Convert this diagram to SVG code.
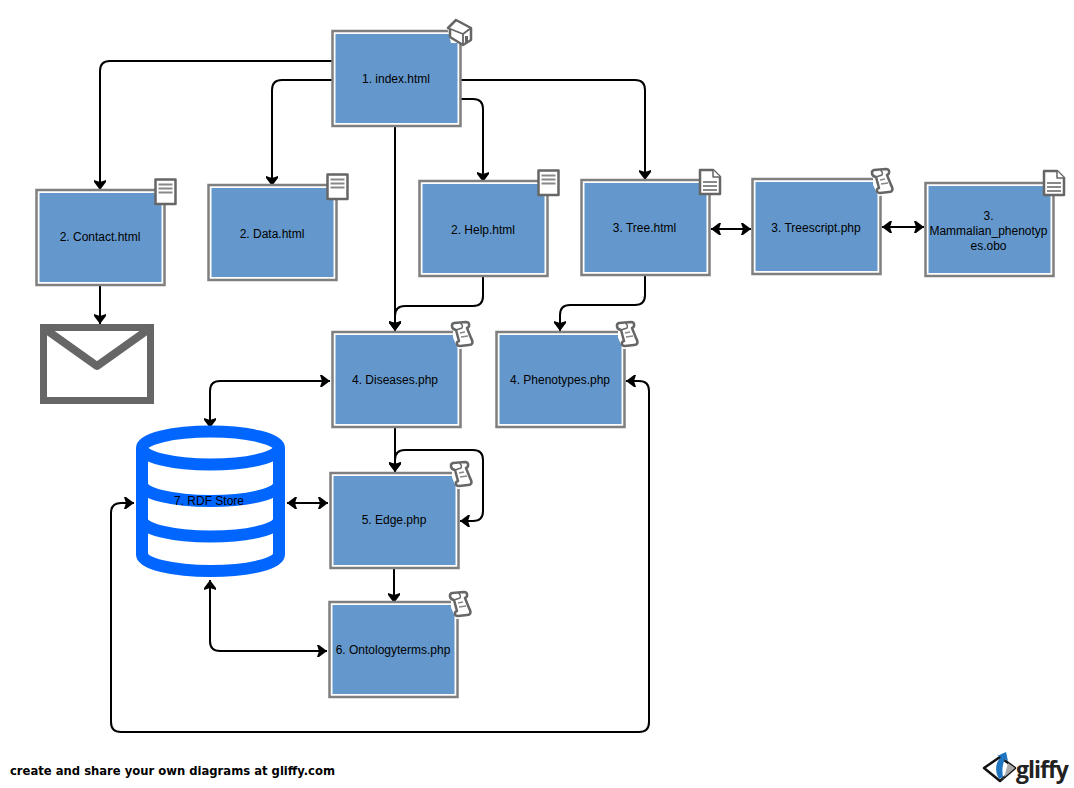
<svg xmlns="http://www.w3.org/2000/svg" xmlns:xlink="http://www.w3.org/1999/xlink" width="1074" height="788" viewBox="0 0 1074 788">
<style>
text{font-family:"Liberation Sans",Arial,sans-serif;font-size:12px;fill:#000;text-anchor:middle}
.o{fill:#fff;stroke:#7f7f7f;stroke-width:2.500}
.b{fill:#6498cc}
.c{fill:none;stroke:#000;stroke-width:2;stroke-linejoin:round}
.i{fill:#fff;stroke:#666;stroke-width:2.5;stroke-linejoin:round}
.l{fill:none;stroke:#888;stroke-width:1.6}
.db{fill:none;stroke:#0066ff;stroke-width:12}
</style>
<defs>
<marker id="e" markerUnits="userSpaceOnUse" markerWidth="16" markerHeight="16" refX="12" refY="8" orient="auto"><path d="M12 8L4 2L2 2L4 8L2 14L4 14Z" fill="#000"/></marker>
<marker id="s" markerUnits="userSpaceOnUse" markerWidth="16" markerHeight="16" refX="4" refY="8" orient="auto"><path d="M4 8L12 2L14 2L12 8L14 14L12 14Z" fill="#000"/></marker>
<g id="doc"><rect class="i" x="0.500" y="0.500" width="20" height="24.500"/><path class="l" d="M3.500 5.500H17.500M3.500 9.500H17.500M3.500 13.500H17.500" style="stroke-width:2"/></g>
<g id="file"><path class="i" d="M1 1H14L21 8V25H1Z"/><path class="i" d="M14 1V8H21" style="stroke-width:1.500"/><path class="l" d="M4 13H18M4 17H18M4 21H18" style="stroke-width:1.800"/></g>
<g id="scroll"><path class="i" style="stroke:#fff;stroke-width:6" d="M5 2H15L20 20L9 25L5 16Z"/><path class="i" d="M3 2L15 1C19 1 19 6 16 7L20 17C23 22 21 24 18 24L9 25C5 25 5 21 8 20L5 9C0 8 0 3 3 2Z"/><path class="i" d="M5 9L11 7C12 5 11 3 9 2" style="stroke-width:1.500"/><path class="l" d="M9 12L14 11M10 16L17 15"/></g>
<g id="house"><path d="M0 8L14 18L22 24L4 24Z" fill="#fff"/><path class="i" d="M1 9L9 1L24 9V21L16 26L3 18V10Z"/><path class="i" d="M1 9L16 15L24 9M16 15V26" style="stroke-width:1.800"/><rect x="18" y="17" width="3" height="7" fill="#666"/></g>
</defs>
<rect width="1074" height="788" fill="#fff"/>
<g id="connectors">
<path class="c" marker-end="url(#e)" d="M332 61H110Q100 61 100 71V190"/>
<path class="c" marker-end="url(#e)" d="M332 80H282Q272 80 272 90V186"/>
<path class="c" marker-end="url(#e)" d="M395 127V331"/>
<path class="c" marker-end="url(#e)" d="M461 99H473Q483 99 483 109V182"/>
<path class="c" marker-end="url(#e)" d="M461 80H635Q645 80 645 90V180"/>
<path class="c" marker-end="url(#e)" d="M483 277V296Q483 306 473 306H405Q395 306 395 316V331"/>
<path class="c" marker-end="url(#e)" d="M645 276V295Q645 305 635 305H570Q560 305 560 315V331"/>
<path class="c" marker-start="url(#s)" marker-end="url(#e)" d="M711 229H751"/>
<path class="c" marker-start="url(#s)" marker-end="url(#e)" d="M882 227H924"/>
<path class="c" marker-end="url(#e)" d="M100 286V324"/>
<path class="c" marker-start="url(#s)" marker-end="url(#e)" d="M210 428V391Q210 381 220 381H330"/>
<path class="c" marker-start="url(#s)" marker-end="url(#e)" d="M287 503H328"/>
<path class="c" marker-end="url(#e)" d="M395 428V472"/>
<path class="c" marker-start="url(#s)" marker-end="url(#e)" d="M460 521H473Q483 521 483 511V460Q483 450 473 450H405Q395 450 395 460V472"/>
<path class="c" marker-end="url(#e)" d="M394 569V603"/>
<path class="c" marker-start="url(#s)" marker-end="url(#e)" d="M210 580V641Q210 651 220 651H327"/>
<path class="c" marker-start="url(#s)" marker-end="url(#e)" d="M626 381H639Q649 381 649 391V722Q649 732 639 732H121Q111 732 111 722V513Q111 503 121 503H134"/>
</g>
<g id="n1"><rect class="o" x="332.500" y="31" width="128" height="95"/><rect class="b" x="335.500" y="34" width="122" height="89"/><use xlink:href="#house" x="447" y="19"/><text x="396" y="83">1. index.html</text></g>
<g id="n2"><rect class="o" x="36.500" y="190" width="128" height="95"/><rect class="b" x="39.500" y="193" width="122" height="89"/><use xlink:href="#doc" x="155" y="179"/><text x="100" y="241">2. Contact.html</text></g>
<g id="n3"><rect class="o" x="208.500" y="185" width="128" height="95"/><rect class="b" x="211.500" y="188" width="122" height="89"/><use xlink:href="#doc" x="327" y="174"/><text x="272" y="238">2. Data.html</text></g>
<g id="n4"><rect class="o" x="419.500" y="181" width="128" height="95"/><rect class="b" x="422.500" y="184" width="122" height="89"/><use xlink:href="#doc" x="538" y="170"/><text x="483" y="234">2. Help.html</text></g>
<g id="n5"><rect class="o" x="581.500" y="180" width="128" height="95"/><rect class="b" x="584.500" y="183" width="122" height="89"/><use xlink:href="#file" x="699" y="169"/><text x="644.500" y="232">3. Tree.html</text></g>
<g id="n6"><rect class="o" x="752.500" y="179" width="128" height="95"/><rect class="b" x="755.500" y="182" width="122" height="89"/><use xlink:href="#scroll" x="871" y="168"/><text x="816" y="232">3. Treescript.php</text></g>
<g id="n7"><rect class="o" x="925.500" y="183" width="128" height="93"/><rect class="b" x="928.500" y="186" width="122" height="87"/><use xlink:href="#file" x="1043" y="170"/><text x="988.500" y="220">3.</text><text x="988.500" y="235">Mammalian_phenotyp</text><text x="988.500" y="250">es.obo</text></g>
<g id="n8"><rect class="o" x="332.500" y="332" width="128" height="95"/><rect class="b" x="335.500" y="335" width="122" height="89"/><use xlink:href="#scroll" x="451" y="321"/><text x="395" y="384">4. Diseases.php</text></g>
<g id="n9"><rect class="o" x="496.500" y="332" width="128" height="95"/><rect class="b" x="499.500" y="335" width="122" height="89"/><use xlink:href="#scroll" x="616" y="321"/><text x="560" y="384">4. Phenotypes.php</text></g>
<g id="n10"><rect class="o" x="330.500" y="473" width="128" height="95"/><rect class="b" x="333.500" y="476" width="122" height="89"/><use xlink:href="#scroll" x="450" y="461"/><text x="394" y="524">5. Edge.php</text></g>
<g id="n11"><rect class="o" x="329.500" y="602" width="128" height="95"/><rect class="b" x="332.500" y="605" width="122" height="89"/><use xlink:href="#scroll" x="449" y="591"/><text x="393" y="654">6. Ontologyterms.php</text></g>
<g id="n12"><ellipse class="db" cx="210.500" cy="448" rx="68.500" ry="16.500"/><path class="db" d="M142 448V554.500A68.500 16.500 0 0 0 279 554.500V448M142 484.500A68.500 16.500 0 0 0 279 484.500M142 520A68.500 16.500 0 0 0 279 520"/><text x="209" y="505">7. RDF Store</text></g>
<g id="n13"><rect x="43.500" y="327.500" width="107" height="73" fill="#fff" stroke="#666" stroke-width="7"/><path d="M45 329L97 366L149 329" fill="none" stroke="#666" stroke-width="8" stroke-linejoin="round"/></g>
<g id="footer"><text x="10" y="775" style="font-family:'DejaVu Sans',Verdana,sans-serif;font-size:11.600px;font-weight:bold;text-anchor:start">create and share your own diagrams at gliffy.com</text></g>
<g id="logo"><path d="M984 768L1000 757L1015 768L1000 781Z" fill="#fff" stroke="#111" stroke-width="2.500" stroke-linejoin="round"/><path d="M1000 781L1015 768L1008 763L1004 778Z" fill="#aaa"/><path d="M999 779C994 770 996 762 1001 757L997 756L1006 752L1008 761L1005 759C1002 765 1002 772 1003 777Z" fill="#1f75c0"/><text x="1016" y="778" style="font-family:'Open Sans',sans-serif;font-size:23px;font-weight:bold;text-anchor:start;letter-spacing:-1px;fill:#222">gliffy</text></g>
</svg>
